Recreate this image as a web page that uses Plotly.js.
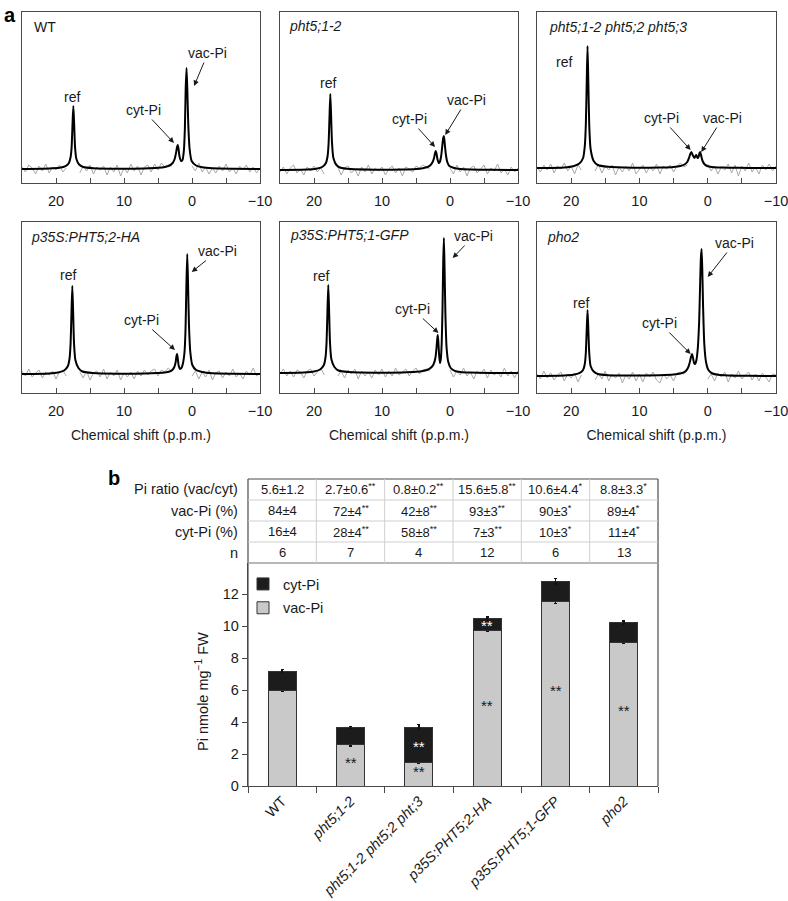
<!DOCTYPE html>
<html><head><meta charset="utf-8">
<script src="https://cdn.plot.ly/plotly-3.0.1.min.js"></script>
<style>html,body{margin:0;padding:0;background:#fff}#chart{width:788px;height:901px}</style>
</head><body><div id="chart"></div>
<script>
// ---------------- DATA: panel a (31P-NMR spectra) ----------------
const panelNames = ['WT','pht5;1-2','pht5;1-2 pht5;2 pht5;3','p35S:PHT5;2-HA','p35S:PHT5;1-GFP','pho2'];

// fitted spectra (black), chemical shift in p.p.m. and intensity (arbitrary units)
const wtShift  = [25,21,19.5,18.6,18.1,17.85,17.7,17.57,17.45,17.33,17.2,17.0,16.6,16.0,14.5,11,7,5,4,3.3,2.85,2.55,2.35,2.2,2.1,2.0,1.85,1.6,1.4,1.2,1.05,0.93,0.8,0.67,0.55,0.35,0.05,-0.6,-1.5,-3,-6,-10];
const wtFit    = [0,0.5,1.2,2.8,6,12,22,45,63,45,22,10,4.5,2,0.8,0.3,0.6,1.2,2,3.5,6,10,16,22,24,21,13,8,9,18,40,80,101,75,45,20,8,3.5,1.8,0.8,0.3,0];
const p51Shift = [25,21,19.7,18.8,18.25,18.0,17.85,17.72,17.6,17.48,17.35,17.15,16.7,16.1,14.6,11,7,5,4,3.3,2.85,2.55,2.35,2.2,2.1,2.0,1.85,1.65,1.5,1.3,1.12,1.0,0.9,0.78,0.62,0.4,0.1,-0.6,-1.5,-3,-6,-10];
const p51Fit   = [0,0.5,1.3,3,7,14,27,53,76,53,27,12,5,2.2,0.9,0.3,0.5,1,1.8,3,5,8,12,17,19,17,11,7,8,14,25,32,34,27,16,8,4,2,1,0.5,0.2,0];
const tripShift= [25,21,19.7,18.8,18.25,18.0,17.85,17.72,17.6,17.48,17.35,17.15,16.7,16.1,14.6,11,7,5,4,3.4,3.0,2.75,2.55,2.4,2.2,1.95,1.8,1.67,1.5,1.35,1.2,1.1,0.95,0.75,0.5,0.1,-0.6,-1.5,-3,-6,-10];
const tripFit  = [0,0.6,1.8,4.5,10,22,43,85,122,85,43,19,7,3,1.2,0.3,0.5,1,2,3.5,6,10,14,16,13,10,12,13,10,11,15,16,12,7,4,2,1,0.6,0.3,0.1,0];
const ha2Shift = [25,21,19.7,18.8,18.25,18.0,17.85,17.72,17.6,17.48,17.35,17.15,16.7,16.1,14.6,11,7,5,4,3.3,2.9,2.6,2.4,2.28,2.2,2.1,1.95,1.75,1.55,1.35,1.1,0.95,0.82,0.7,0.58,0.45,0.25,-0.05,-0.6,-1.5,-3,-6,-10];
const ha2Fit   = [0,0.5,1.5,3.5,8,16,31,62,88,62,31,14,6,2.5,1,0.3,0.5,1,1.5,2.5,4,7,12,18,20,16,8,5,6,10,22,45,90,120,90,50,22,9,4,2,0.8,0.3,0];
const gfpShift = [25,21.5,20,19.1,18.55,18.3,18.15,18.02,17.9,17.78,17.65,17.45,17.0,16.4,14.9,11,7,5,4,3.2,2.7,2.4,2.15,2.0,1.88,1.8,1.72,1.6,1.48,1.35,1.22,1.1,1.0,0.9,0.8,0.68,0.5,0.25,-0.1,-0.7,-1.5,-3,-6,-10];
const gfpFit   = [0,0.5,1.5,3.5,8,16,31,62,88,62,31,14,6,2.5,1,0.3,0.6,1.2,2,3.5,6,9,15,24,34,38,32,18,10,14,30,65,110,135,105,60,25,11,5,2.2,1,0.4,0.1,0];
const pho2Shift= [25,21,19.7,18.8,18.25,18.0,17.85,17.72,17.6,17.48,17.35,17.15,16.7,16.1,14.6,11,7,5,4,3.3,2.9,2.65,2.45,2.3,2.15,2.0,1.85,1.65,1.45,1.25,1.1,1.0,0.9,0.8,0.68,0.5,0.25,-0.1,-0.7,-1.5,-3,-6,-10];
const pho2Fit  = [0,0.5,1.2,2.8,6,12,23,46,66,46,23,10,4.5,2,0.8,0.4,0.8,1.5,2.5,4.5,8,13,19,22,18,13,12,16,28,55,95,118,127,108,70,32,14,6,2.5,1.2,0.5,0.2,0];

// raw spectra baseline noise (grey), sampled every 0.5 p.p.m.
const noiseShift = [25,24.5,24,23.5,23,22.5,22,21.5,21,20.5,20,19.5,19,18.5,18,17.5,17,16.5,16,15.5,15,14.5,14,13.5,13,12.5,12,11.5,11,10.5,10,9.5,9,8.5,8,7.5,7,6.5,6,5.5,5,4.5,4,3.5,3,2.5,2,1.5,1,0.5,0,-0.5,-1,-1.5,-2,-2.5,-3,-3.5,-4,-4.5,-5,-5.5,-6,-6.5,-7,-7.5,-8,-8.5,-9,-9.5,-10];
const wtNoise  = [2,-3,4,1,-5,3,-2,5,-4,2, -1,4,-3,1,null,null,null,-4,3,-2, 4,-5,2,-1,3,-6,2,-3,4,-7, 1,-4,5,-2,3,-6,2,4,-3,5, -1,6,2,4,3,null,null,null,null,null, 3,-2,6,-3,2,-5,1,-4,3,-2, 5,-3,1,-5,3,-1,4,-3,2,-4, 1];
const p51Noise = [-2,3,-4,2,5,-3,1,-5,3,-1, 4,-2,2,-4,null,null,null,3,-5,2, 4,-3,1,-6,3,-2,5,-4,2,-1, 3,-5,1,4,-3,2,-6,3,1,-2, 4,2,5,3,1,null,null,null,null,null, 2,-4,5,-2,3,-6,2,4,-3,1, 5,-4,2,-1,6,-3,1,-5,3,-2, 2];
const tripNoise= [1,-4,3,-2,4,-5,2,-1,5,-3, 2,-6,3,-2,null,null,null,-3,4,-5, 2,-2,3,-7,1,-4,2,-3,5,-6, -2,3,-5,1,-3,4,-6,2,-1,3, -4,2,5,1,3,null,null,null,null,null, 4,-3,2,-6,1,-2,4,-5,3,-8, 2,-3,5,-4,1,-6,3,-2,4,-3, 2];
const ha2Noise = [3,-2,5,-3,1,4,-4,2,-1,3, -5,2,4,-2,null,null,null,2,-4,3, -6,1,3,-3,5,-5,2,-2,4,-6, 1,-3,2,-5,3,-2,4,-1,3,5, -2,4,2,6,3,null,null,null,null,null, -2,3,-5,2,-3,4,-6,1,3,-4, 2,-2,5,-3,1,-5,3,-1,6,-2, 1];
const gfpNoise = [-1,4,-3,2,-4,3,1,-5,2,4, -3,1,5,-2,null,null,null,-3,2,-5, 3,-1,4,-6,2,-3,1,-5,3,-2, 4,-4,2,-3,5,-2,1,4,-3,2, 5,-1,3,4,2,null,null,null,null,null, 3,-4,2,-2,5,-3,1,-6,2,-1, 4,-5,3,-2,1,-4,5,-3,2,-5, 2];
const pho2Noise= [2,-3,5,-2,3,-4,1,4,-5,2, -2,3,-6,1,null,null,null,-4,2,-3, 5,-5,2,-2,3,-7,1,-3,4,-5, 2,-6,3,-1,4,-4,-7,2,-3,1, -5,3,4,2,5,null,null,null,null,null, -3,2,-5,3,-1,4,-6,2,-2,5, -3,1,4,-4,2,-5,3,-1,-6,2, 1];

// ---------------- DATA: panel b ----------------
const genotypes  = ['WT','pht5;1-2','pht5;1-2 pht5;2 pht;3','p35S:PHT5;2-HA','p35S:PHT5;1-GFP','pho2'];
const italicName = [false,true,true,true,true,true];
const vacPi      = [6.0, 2.6, 1.5, 9.75, 11.55, 9.0];
const cytPi      = [1.18, 1.05, 2.18, 0.73, 1.25, 1.2];
const vacErr     = [0.1, 0.1, 0.1, 0.1, 0.15, 0.1];
const cytErr     = [0.1, 0.07, 0.15, 0.1, 0.18, 0.1];
const rowLabels  = ['Pi ratio (vac/cyt)','vac-Pi (%)','cyt-Pi (%)','n'];
const piRatio    = ['5.6±1.2','2.7±0.6**','0.8±0.2**','15.6±5.8**','10.6±4.4*','8.8±3.3*'];
const vacPct     = ['84±4','72±4**','42±8**','93±3**','90±3*','89±4*'];
const cytPct     = ['16±4','28±4**','58±8**','7±3**','10±3*','11±4*'];
const nRep       = ['6','7','4','12','6','13'];
const tickLabelsA = ['20','','10','','0','','−10'];
const tickValsA   = [20,15,10,5,0,-5,-10];

// ---------------- LAYOUT HELPERS ----------------
const W=788,H=901;
const PX=x=>x/W, PY=y=>1-y/H;
const FONT='Liberation Sans, Arial, sans-serif';
const INK='#1a1a1a', LINE='#4a4a4a';

const spectra = [
  {shift:wtShift,fit:wtFit,noise:wtNoise},
  {shift:p51Shift,fit:p51Fit,noise:p51Noise},
  {shift:tripShift,fit:tripFit,noise:tripNoise},
  {shift:ha2Shift,fit:ha2Fit,noise:ha2Noise},
  {shift:gfpShift,fit:gfpFit,noise:gfpNoise},
  {shift:pho2Shift,fit:pho2Fit,noise:pho2Noise}
];
const cols=[[22,260],[280,518],[537,776]], rows=[[12,183],[222,393]];
const yRanges=[[-14,157],[-13,158],[-15,156],[-19,152],[-20,151],[-17,154]];
const titlePos=[[32,27],[287,26],[547,27],[29,237],[288,235],[545,237]];
const refPos=[[17.6,72],[17.9,87],[21.0,106],[18.3,99],[18.9,97],[18.6,73]];
const cytLab=[[7.2,59,2.65,26],[5.9,51,2.2,23],[6.75,50,2.5,18],[7.4,54,2.5,24],[5.5,64,1.7,40],[7,53,2.5,22]];
const vacLab=[[-2.35,116,-0.3,83],[-2.45,70,0.7,35],[-2.2,50,0.94,16],[-3.8,123,0.04,102],[-3.5,137,-0.4,115],[-3.9,133,0,99]];

const traces=[], annotations=[], shapes=[];
const layout={
  width:W,height:H,margin:{l:0,r:0,t:0,b:0},paper_bgcolor:'#fff',plot_bgcolor:'rgba(0,0,0,0)',
  font:{family:FONT,color:INK,size:14},showlegend:true,barmode:'stack',
};

spectra.forEach((s,i)=>{
  const k=i+1, c=cols[i%3], r=rows[Math.floor(i/3)];
  const xa=k===1?'x':'x'+k, ya=k===1?'y':'y'+k;
  traces.push({x:noiseShift,y:s.noise,xaxis:xa,yaxis:ya,type:'scatter',mode:'lines',
    line:{color:'#a9a9a9',width:1},connectgaps:false,showlegend:false,hoverinfo:'skip'});
  traces.push({x:s.shift,y:s.fit,xaxis:xa,yaxis:ya,type:'scatter',mode:'lines',
    line:{color:'#000',width:2,shape:'spline',smoothing:0.6},showlegend:false,hoverinfo:'skip'});
  const xName=k===1?'xaxis':'xaxis'+k, yName=k===1?'yaxis':'yaxis'+k;
  layout[xName]={domain:[PX(c[0]),PX(c[1])],anchor:ya,range:[25,-10],autorange:false,
    tickmode:'array',tickvals:tickValsA,ticktext:tickLabelsA,ticks:'inside',ticklen:5,tickwidth:1,tickcolor:LINE,
    showline:true,mirror:true,linecolor:LINE,linewidth:1.2,showgrid:false,zeroline:false,automargin:false,
    ticklabeloverflow:'allow',tickfont:{size:14.5,color:INK},ticklabelstandoff:4};
  if(i>=3) layout[xName].title={text:'Chemical shift (p.p.m.)',font:{size:14,color:INK},standoff:12};
  layout[yName]={domain:[PY(r[1]),PY(r[0])],anchor:xa,range:yRanges[i],autorange:false,
    showticklabels:false,ticks:'',showline:true,mirror:true,linecolor:LINE,linewidth:1.2,
    showgrid:false,zeroline:false,automargin:false};
  annotations.push({xref:'paper',yref:'paper',x:PX(titlePos[i][0]),y:PY(titlePos[i][1]),xanchor:'left',yanchor:'middle',
    text:(i===0?panelNames[i]:'<i>'+panelNames[i]+'</i>'),showarrow:false,font:{size:14,color:INK}});
  annotations.push({xref:xa,yref:ya,x:refPos[i][0],y:refPos[i][1],text:'ref',showarrow:false,font:{size:14,color:INK}});
  [[cytLab[i],'cyt-Pi'],[vacLab[i],'vac-Pi']].forEach(([p,t])=>{
    annotations.push({xref:xa,yref:ya,x:p[2],y:p[3],ax:p[0],ay:p[1],axref:xa,ayref:ya,text:t,
      showarrow:true,arrowhead:2,arrowsize:1.1,arrowwidth:1,arrowcolor:INK,font:{size:14,color:INK}});
  });
});

// ---------------- panel b: bars ----------------
const xIdx=genotypes.map((g,i)=>i);
traces.push({type:'bar',x:xIdx,y:vacPi,xaxis:'x7',yaxis:'y7',name:'vac-Pi',legendgroup:'v',legendrank:2,width:0.41,
  marker:{color:'#c9c9c9',line:{color:'#333',width:1}},
  error_y:{type:'data',array:vacErr,visible:true,color:'#111',thickness:1.5,width:1.5},hoverinfo:'skip'});
traces.push({type:'bar',x:xIdx,y:cytPi,xaxis:'x7',yaxis:'y7',name:'cyt-Pi',legendgroup:'c',legendrank:1,width:0.41,
  marker:{color:'#1c1c1c',line:{color:'#333',width:1}},
  error_y:{type:'data',array:cytErr,visible:true,color:'#111',thickness:1.5,width:1.5},hoverinfo:'skip'});

const BX0=248,BX1=658,BY0=563,BY1=786,TY0=479;
layout.xaxis7={domain:[PX(BX0),PX(BX1)],anchor:'y7',range:[-0.5,5.5],autorange:false,
  tickmode:'array',tickvals:xIdx,ticktext:genotypes.map((g,i)=>italicName[i]?'<i>'+g+'</i>':g),
  ticks:'',tickangle:-45,tickfont:{size:14.4,color:INK},
  minor:{tick0:-0.5,dtick:1,ticks:'outside',ticklen:6,tickwidth:1,tickcolor:LINE,showgrid:false},
  showline:true,linecolor:LINE,linewidth:1.2,showgrid:false,zeroline:false,automargin:false};
layout.yaxis7={domain:[PY(BY1),PY(BY0)],anchor:'x7',range:[0,13.94],autorange:false,dtick:2,tick0:0,
  ticks:'outside',ticklen:5,tickwidth:1,tickcolor:LINE,showline:true,linecolor:LINE,linewidth:1.2,
  showgrid:false,zeroline:false,automargin:false,tickfont:{size:14.5,color:INK}};
layout.legend={x:PX(243),y:PY(568),xanchor:'left',yanchor:'top',traceorder:'grouped',tracegroupgap:2,
  bgcolor:'rgba(0,0,0,0)',font:{size:14.5,color:INK},itemwidth:30};

// y-axis title of panel b
annotations.push({xref:'paper',yref:'paper',x:PX(202),y:PY(692),text:'Pi nmole mg<sup>−1</sup> FW',textangle:-90,
  showarrow:false,xanchor:'center',yanchor:'middle',font:{size:14.5,color:INK}});

// table frame
const dark={color:LINE,width:1.2}, light={color:'#cfcfcf',width:1};
shapes.push({type:'line',xref:'paper',yref:'paper',x0:PX(BX0),x1:PX(BX1),y0:PY(TY0),y1:PY(TY0),line:dark});
shapes.push({type:'line',xref:'paper',yref:'paper',x0:PX(BX0),x1:PX(BX0),y0:PY(TY0),y1:PY(BY1),line:dark});
shapes.push({type:'line',xref:'paper',yref:'paper',x0:PX(BX1),x1:PX(BX1),y0:PY(TY0),y1:PY(BY1),line:dark});
[500,521,542].forEach(y=>shapes.push({type:'line',xref:'paper',yref:'paper',x0:PX(BX0),x1:PX(BX1),y0:PY(y),y1:PY(y),line:light}));
shapes.push({type:'line',xref:'paper',yref:'paper',x0:PX(BX0),x1:PX(BX1),y0:PY(BY0),y1:PY(BY0),line:{color:'#a0a0a0',width:1.3}});
[0.5,1.5,2.5,3.5,4.5].forEach(v=>shapes.push({type:'line',xref:'x7',yref:'paper',x0:v,x1:v,y0:PY(TY0),y1:PY(BY0),line:light}));

const sup=s=>s.replace(/(\*+)/,'<sup>$1</sup>');
const rowY=[489.5,510.5,531.5,552.5];
[piRatio,vacPct,cytPct,nRep].forEach((arr,r)=>{
  annotations.push({xref:'paper',yref:'paper',x:PX(240),y:PY(rowY[r]),xanchor:'right',yanchor:'middle',
    text:rowLabels[r],showarrow:false,font:{size:14.5,color:INK}});
  arr.forEach((t,i)=>annotations.push({xref:'x7',yref:'paper',x:i,y:PY(rowY[r]),xanchor:'center',yanchor:'middle',
    text:sup(t),showarrow:false,font:{size:13,color:INK}}));
});

// significance stars on bars
const starMarks=[[1,1.44,INK],[2,2.5,'#fff'],[2,0.9,INK],[3,10.06,'#fff'],[3,5.06,INK],[4,5.94,INK],[5,4.7,INK]];
starMarks.forEach(([i,y,c])=>annotations.push({xref:'x7',yref:'y7',x:i,y:y,text:'**',showarrow:false,
  font:{size:15,color:c},yanchor:'middle'}));

// panel letters
annotations.push({xref:'paper',yref:'paper',x:PX(2),y:PY(15),xanchor:'left',yanchor:'middle',text:'<b>a</b>',showarrow:false,font:{size:20,color:'#000'}});
annotations.push({xref:'paper',yref:'paper',x:PX(106),y:PY(478),xanchor:'left',yanchor:'middle',text:'<b>b</b>',showarrow:false,font:{size:20,color:'#000'}});

layout.annotations=annotations;
layout.shapes=shapes;
Plotly.newPlot('chart',traces,layout,{staticPlot:true,displayModeBar:false});
</script></body></html>
